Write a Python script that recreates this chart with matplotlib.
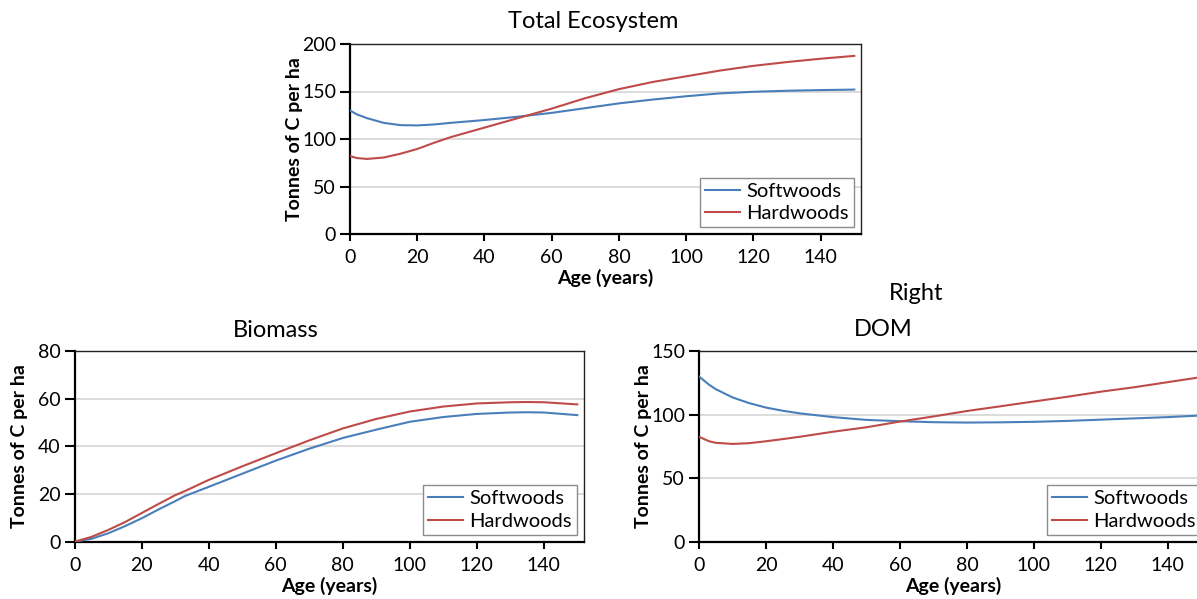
import matplotlib
matplotlib.use("Agg")
import matplotlib.pyplot as plt

plt.rcParams['font.family'] = ['Lato', 'DejaVu Sans']

# colours like the excel default series
blue = "#4a7ebb"
red = "#be4b48"
series_names = ["Softwoods", "Hardwoods"]

# Total ecosystem
age_total = [0, 2, 5, 10, 15, 20, 25, 30, 35, 40, 45, 50, 55, 60, 70, 80, 90, 100, 110, 120, 130, 140, 150]
soft_total = [130, 126, 122, 117, 114.6, 114.3, 115.3, 117, 118.5, 120, 121.7, 123.5, 125.5, 127.5,
              132.5, 137.5, 141.5, 145, 148, 149.7, 150.8, 151.5, 152]
hard_total = [82, 80, 79, 80.5, 84.5, 89.5, 96, 102, 107, 112, 117, 122, 127, 132,
              143, 152.5, 160, 166, 172, 177, 181, 184.5, 187.5]

# Biomass
age_bio = [0, 5, 10, 15, 20, 25, 30, 33, 40, 50, 60, 70, 80, 90, 100, 110, 120, 130, 135, 140, 150]
soft_bio = [0, 1.2, 3.5, 6.5, 9.8, 13.5, 17, 19.2, 23, 28.5, 34, 39, 43.5, 47, 50.3, 52.3, 53.6, 54.2, 54.3, 54.2, 53.1]
hard_bio = [0, 2, 4.9, 8.2, 12, 15.8, 19.5, 21.3, 25.9, 31.6, 37.1, 42.5, 47.5, 51.5, 54.6, 56.7, 58, 58.5, 58.6, 58.5, 57.6]

# DOM
age_dom = [0, 3, 5, 10, 15, 20, 25, 30, 40, 50, 60, 70, 80, 90, 100, 110, 120, 130, 140, 150]
soft_dom = [130, 123.5, 120, 113.5, 109, 105.5, 103, 101, 98, 95.8, 94.8, 94, 93.7, 93.9, 94.3, 95, 96, 97, 98, 99.3]
hard_dom = [82.5, 79, 77.8, 76.9, 77.5, 79, 80.7, 82.5, 86.5, 90, 94.5, 98.5, 102.8, 106.5, 110.3, 114, 118, 121.5, 125.5, 129.5]

x_ticks = [0, 20, 40, 60, 80, 100, 120, 140]

W, H = 1197, 599
fig = plt.figure(figsize=(W / 100, H / 100), dpi=100)


def make_axes(left, top, right, bottom):
    # pixel box -> figure fraction
    return fig.add_axes([left / W, 1 - bottom / H, (right - left) / W, (bottom - top) / H])


def draw(ax, x, soft, hard, ymax, ystep):
    ax.plot(x, soft, color=blue, lw=1.5, label=series_names[0], zorder=3)
    ax.plot(x, hard, color=red, lw=1.5, label=series_names[1], zorder=3)
    ax.set_xlim(0, 152)
    ax.set_ylim(0, ymax)
    ax.set_xticks(x_ticks)
    ax.set_yticks(range(0, ymax + 1, ystep))
    ax.grid(axis='y', color='#d9d9d9', lw=1.3)
    ax.set_axisbelow(True)
    ax.tick_params(axis='x', direction='out', length=5, width=1.5, pad=6, labelsize=14)
    ax.tick_params(axis='y', direction='out', length=7, width=1.5, pad=3, labelsize=14)
    for s in ['left', 'bottom']:
        ax.spines[s].set_linewidth(1.6)
        ax.spines[s].set_color('black')
    for s in ['top', 'right']:
        ax.spines[s].set_linewidth(1.0)
        ax.spines[s].set_color('#222222')
    ax.set_xlabel("Age (years)", fontsize=14, fontweight='bold', labelpad=2)
    ax.set_ylabel("Tonnes of C per ha", fontsize=14, fontweight='bold')
    ax.yaxis.set_label_coords(-0.092, 0.5)
    leg = ax.legend(loc='lower right', fontsize=14.5, frameon=True, fancybox=False,
                    edgecolor='#8c8c8c', framealpha=1, handlelength=1.75, handletextpad=0.3,
                    labelspacing=0.25, borderpad=0.25, borderaxespad=0.35)
    leg.get_frame().set_linewidth(1.0)


ax1 = make_axes(350, 44, 861, 234)
draw(ax1, age_total, soft_total, hard_total, 200, 50)

ax2 = make_axes(74.6, 351, 584, 541.7)
draw(ax2, age_bio, soft_bio, hard_bio, 80, 20)

# right panel runs past the figure edge, as in the original
ax3 = make_axes(699, 351, 1208, 541.7)
draw(ax3, age_dom, soft_dom, hard_dom, 150, 50)

# titles
fig.text(593 / W, 1 - 28.3 / H, "Total Ecosystem", ha='center', va='baseline', fontsize=17)
fig.text(276 / W, 1 - 336.7 / H, "Biomass", ha='center', va='baseline', fontsize=17)
fig.text(883 / W, 1 - 336.5 / H, "DOM", ha='center', va='baseline', fontsize=17)
fig.text(916 / W, 1 - 300 / H, "Right", ha='center', va='baseline', fontsize=17)

fig.savefig("out.png", dpi=100)
